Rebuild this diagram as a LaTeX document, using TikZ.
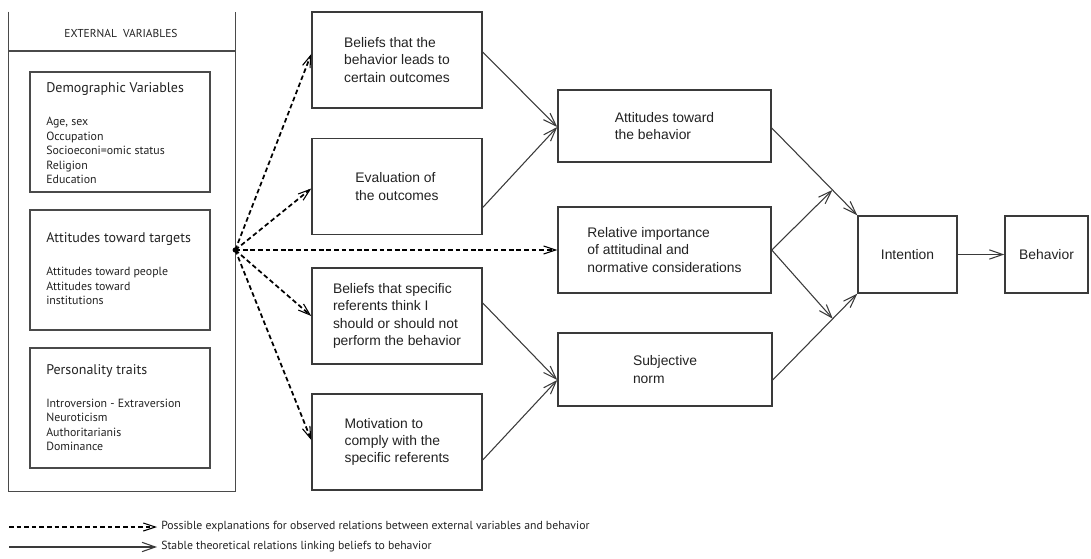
\documentclass[tikz,border=0pt]{standalone}
\usepackage{fontspec}
\setmainfont{Liberation Sans}
\newfontfamily\lfont{PT Sans}
\usetikzlibrary{arrows.meta,calc}
\definecolor{boxc}{HTML}{3A3A3A}
\definecolor{lboxc}{HTML}{4A4A4A}
\definecolor{txtc}{HTML}{222222}
\begin{document}
\begin{tikzpicture}[x=0.75pt,y=-0.75pt,
  rbox/.style={draw=boxc, line width=1.1pt, align=left, inner sep=0pt, text=txtc,
     font=\fontsize{10.4}{13}\selectfont},
  lbox/.style={draw=lboxc, line width=1.1pt, inner sep=0pt},
  ltitle/.style={inner sep=0pt, text=txtc, font=\lfont\fontsize{10.5}{12}\selectfont},
  litems/.style={inner sep=0pt, align=left, text=txtc, font=\lfont\fontsize{8.9}{10.8}\selectfont},
  legtext/.style={inner sep=0pt, text=txtc, font=\lfont\fontsize{8.8}{10}\selectfont},
  solidarrow/.style={draw=boxc, line width=0.8pt, -{Straight Barb[length=10pt,width=7pt,line width=0.8pt]}},
  dasharrow/.style={draw=black, line width=1.3pt, dash pattern=on 3.5pt off 2.2pt,
     -{Straight Barb[length=9pt,width=6pt,line width=0.8pt]}}
]
\useasboundingbox (0,0) rectangle (1091,559);

% external variables frame
\node[minimum width=169.5pt, minimum height=359.25pt, inner sep=0pt] (ext) at (122,251.5) {};
\draw[lbox] (ext.north west) -- (ext.south west) -- (ext.south east) -- (ext.north east);
\coordinate (hl) at (9,51);
\draw[lbox] (ext.west |- hl) -- (ext.east |- hl);
\node[inner sep=0pt, text=txtc, font=\lfont\fontsize{8.6}{10}\selectfont] (extt) at (121,33) {EXTERNAL\ \ VARIABLES};

\node[lbox, minimum width=135pt, minimum height=90pt] (demo) at (120,132) {};
\node[ltitle, anchor=west] (demot) at (46,89) {Demographic Variables};
\node[litems, anchor=west] (demoi) at (46,150.5) {Age, sex\\Occupation\\Socioeconi=omic status\\Religion\\Education};

\node[lbox, minimum width=135pt, minimum height=90pt] (attt) at (120,270) {};
\node[ltitle, anchor=west] (atttt) at (46,239) {Attitudes toward targets};
\node[litems, anchor=west] (attti) at (46,286) {Attitudes toward people\\Attitudes toward\\institutions};

\node[lbox, minimum width=135pt, minimum height=90pt] (pers) at (120,408) {};
\node[ltitle, anchor=west] (perst) at (46,371) {Personality traits};
\node[litems, anchor=west] (persi) at (46,425) {Introversion - Extraversion\\Neuroticism\\Authoritarianis\\Dominance};

% belief boxes
\node[rbox, minimum width=127.5pt, minimum height=72pt] (b1) at (397,60) {Beliefs that the\\behavior leads to\\certain outcomes};
\node[rbox, minimum width=127.5pt, minimum height=72pt] (b2) at (397,186.5) {Evaluation of\\the outcomes};
\node[rbox, minimum width=127.5pt, minimum height=72pt] (b3) at (397,316) {Beliefs that specific\\referents think I\\should or should not\\perform the behavior};
\node[rbox, minimum width=127.5pt, minimum height=72pt] (b4) at (397,442) {Motivation to\\comply with the\\specific referents};

\node[rbox, minimum width=159.75pt, minimum height=54pt] (att) at (664.5,126) {Attitudes toward\\the behavior};
\node[rbox, minimum width=159.75pt, minimum height=64.5pt] (rel) at (664.5,250) {Relative importance\\of attitudinal and\\normative considerations};
\node[rbox, minimum width=160.5pt, minimum height=54.75pt] (sn) at (665,369.5) {Subjective\\norm};

\node[rbox, minimum width=74.25pt, minimum height=57.75pt] (int) at (907.5,254.5) {Intention};
\node[rbox, minimum width=62.25pt, minimum height=57.75pt] (beh) at (1046.5,254.5) {Behavior};

% solid connectors
\draw[solidarrow] ($(b1.east)+(0,-8)$) -- ($(att.west)+(0,1)$);
\draw[solidarrow] ($(b2.east)+(0,21)$) -- ($(att.west)+(0,1)$);
\draw[solidarrow] ($(b3.east)+(0,-13)$) -- ($(sn.west)+(0,10.5)$);
\draw[solidarrow] ($(b4.east)+(0,18)$) -- ($(sn.west)+(0,10.5)$);
\coordinate (attout) at ($(att.east)+(0,2)$);
\coordinate (snout) at ($(sn.east)+(0,10.5)$);
\draw[solidarrow] (attout) -- (int.north west);
\draw[solidarrow] (snout) -- (int.south west);
\coordinate (m1) at ($(attout)!0.71!(int.north west)$);
\coordinate (m2) at ($(snout)!0.71!(int.south west)$);
\draw[solidarrow] (rel.east) -- (m1);
\draw[solidarrow] (rel.east) -- (m2);
\draw[solidarrow] (int.east) -- (beh.west);

% dashed connectors
\coordinate (hub) at ($(ext.east)+(0,-1.5)$);
\draw[dasharrow] (hub) -- ($(b1.west)+(0,-6)$);
\draw[dasharrow] (hub) -- ($(b2.west)+(0,2)$);
\draw[dasharrow] (hub) -- (rel.west);
\draw[dasharrow] (hub) -- (b3.west);
\draw[dasharrow] (hub) -- ($(b4.west)+(0,-2)$);
\fill[black] (hub) circle[radius=2pt];

% legend
\coordinate (l1a) at (9,527);
\coordinate (l1b) at (157,527);
\coordinate (l2a) at (9,547);
\coordinate (l2b) at (157,547);
\draw[dasharrow] (l1a) -- (l1b);
\draw[solidarrow] (l2a) -- (l2b);
\node[legtext, anchor=west] (l1t) at (161,527) {Possible explanations for observed relations between external variables and behavior};
\node[legtext, anchor=west] (l2t) at (161,547) {Stable theoretical relations linking beliefs to behavior};
\end{tikzpicture}
\end{document}
